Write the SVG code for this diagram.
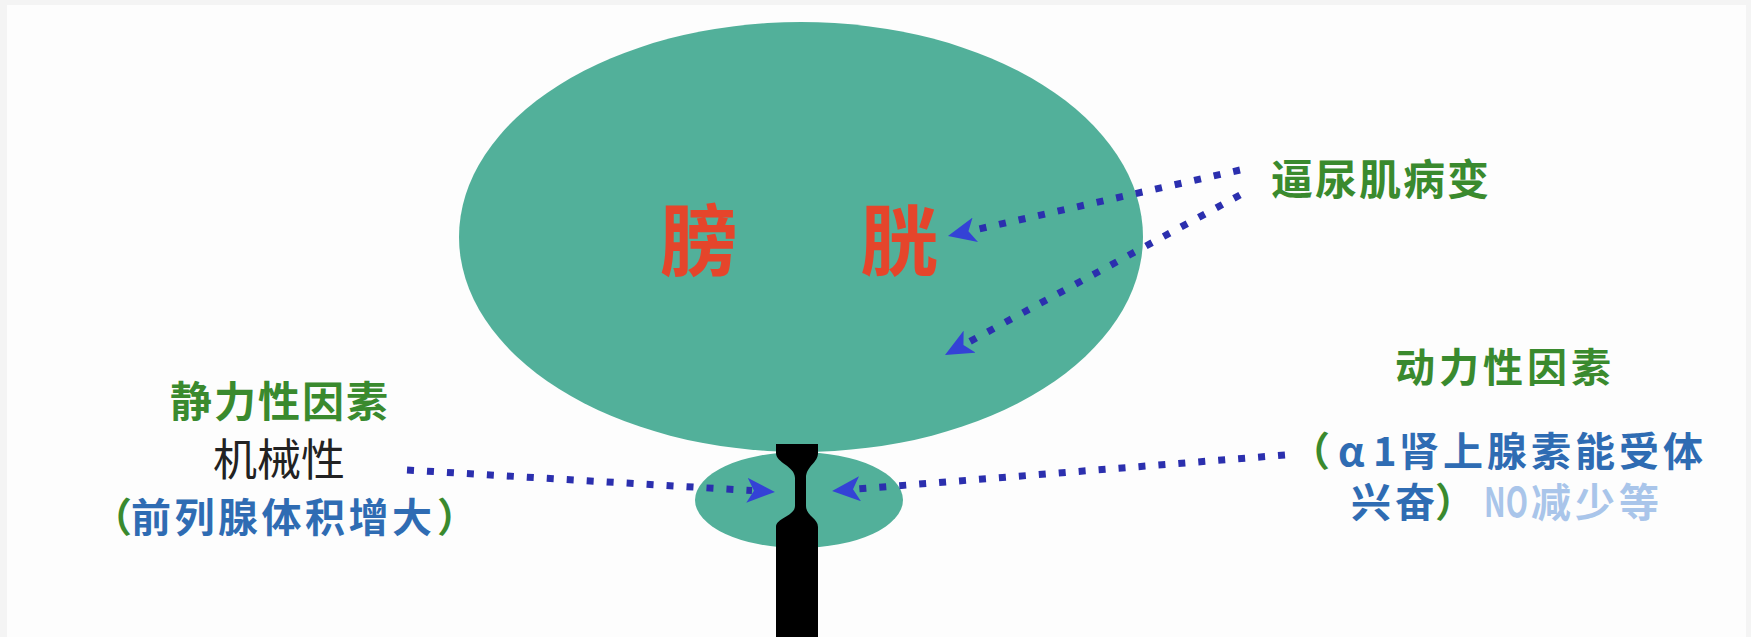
<svg xmlns="http://www.w3.org/2000/svg" width="1751" height="637" viewBox="0 0 1751 637">
  <style>
    .organ { fill: #52b09a; }
    .cjk { font-family: "Noto Sans CJK SC", "Noto Sans", sans-serif; }
    .green { fill: #3a8a2e; font-weight: bold; }
    .blue { fill: #2f6cb3; font-weight: bold; }
    .pale { fill: #a9c5ea; font-weight: bold; }
    .dots { fill: none; stroke: #2b2fae; stroke-width: 7; stroke-dasharray: 7 13; }
  </style>
  <defs>
    <marker id="head" viewBox="0 0 28 25" markerWidth="28" markerHeight="25" refX="5" refY="12.5" orient="auto" markerUnits="userSpaceOnUse">
      <path d="M0,0 L28,12.5 L0,25 L7,12.5 Z" fill="#3442d6"/>
    </marker>
  </defs>

  <!-- page -->
  <rect x="0" y="0" width="1751" height="637" fill="#f4f4f4"/>
  <rect x="7" y="5" width="1739" height="632" fill="#fdfdfd"/>

  <g id="bladder">
    <ellipse class="organ" cx="801" cy="237" rx="342" ry="215"/>
    <text class="cjk" x="660" y="270" font-size="78" font-weight="bold" fill="#e5452b">膀</text>
    <text class="cjk" x="860" y="270" font-size="78" font-weight="bold" fill="#e5452b">胱</text>
  </g>

  <g id="prostate">
    <ellipse class="organ" cx="799" cy="500" rx="104" ry="48"/>
  </g>

  <g id="urethra">
    <path d="M776,444 H818 V453 C818,463 806,466 806,478 V506 C806,516 818,518 818,527 V637 H776 V527 C776,518 795,516 795,506 V478 C795,466 776,463 776,453 Z" fill="#000"/>
  </g>

  <g id="connectors">
    <line class="dots" x1="1240" y1="170" x2="970.4" y2="230.9" marker-end="url(#head)"/>
    <line class="dots" x1="1240" y1="195" x2="965.2" y2="344" marker-end="url(#head)"/>
    <line class="dots" x1="407" y1="470" x2="752" y2="490.6" marker-end="url(#head)"/>
    <line class="dots" x1="1285" y1="455" x2="855" y2="489.2" marker-end="url(#head)"/>
  </g>

  <g id="detrusor-label">
    <text class="cjk green" x="1271" y="195" font-size="42" letter-spacing="2">逼尿肌病变</text>
  </g>

  <g id="static-factors">
    <text class="cjk green" x="170" y="417" font-size="42" letter-spacing="2">静力性因素</text>
    <text class="cjk" x="213" y="476" font-size="44" fill="#222">机械性</text>
    <text class="cjk" y="532" font-size="40"><tspan class="green" x="92">（</tspan><tspan class="blue" x="131" letter-spacing="3.5">前列腺体积增大</tspan><tspan class="green" x="437">）</tspan></text>
  </g>

  <g id="dynamic-factors">
    <text class="cjk green" x="1395" y="382" font-size="40" letter-spacing="4">动力性因素</text>
    <text class="cjk" y="466" font-size="40"><tspan class="green" x="1290">（</tspan><tspan class="blue" x="1338 1373">α1</tspan><tspan class="blue" x="1399" letter-spacing="4">肾上腺素能受体</tspan></text>
    <text class="cjk" y="517" font-size="40"><tspan class="blue" x="1351" letter-spacing="4">兴奋</tspan><tspan class="green" x="1435">）</tspan></text>
    <text class="cjk pale" x="1484" y="517" font-size="40" textLength="44" lengthAdjust="spacingAndGlyphs">NO</text>
    <text class="cjk pale" x="1531" y="517" font-size="40" letter-spacing="4">减少等</text>
  </g>
</svg>
